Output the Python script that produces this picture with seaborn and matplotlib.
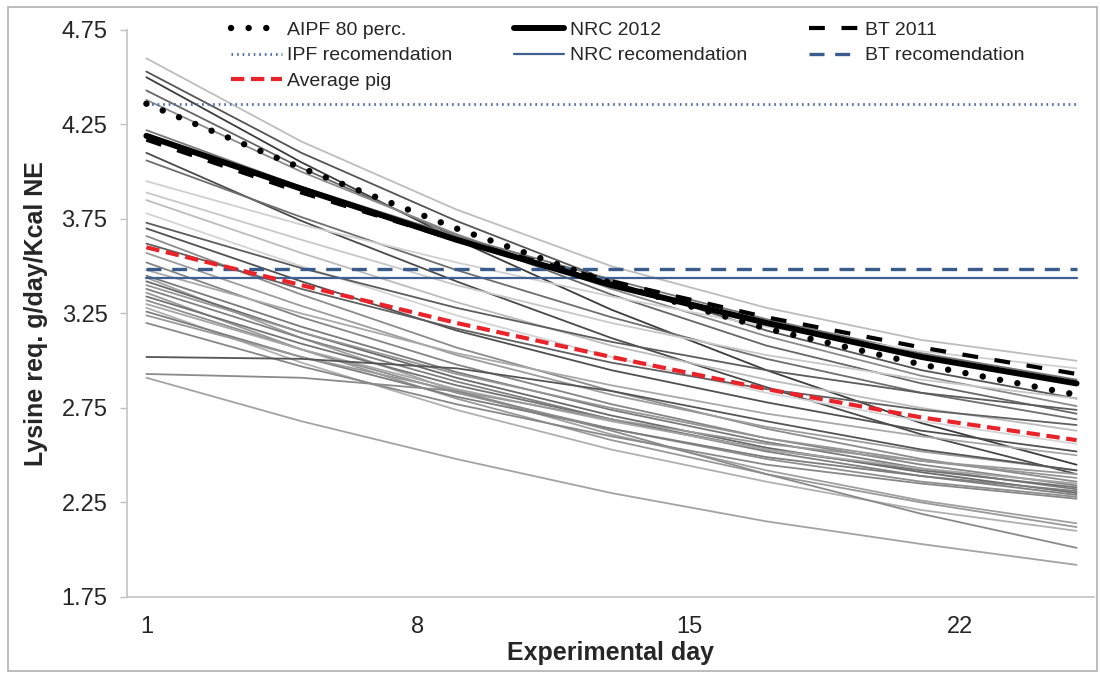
import pandas as pd
import seaborn as sns
import matplotlib.pyplot as plt
from matplotlib.patches import Rectangle

days = [1, 5, 9, 13, 17, 21, 25]

# individual pigs (one list per pig, values at the days above)
pig_curves = [
    [4.60, 4.16, 3.80, 3.50, 3.28, 3.11, 3.00],
    [4.53, 4.10, 3.74, 3.42, 3.16, 2.95, 2.80],
    [4.50, 4.05, 3.64, 3.27, 2.95, 2.67, 2.45],
    [4.43, 4.02, 3.66, 3.35, 3.08, 2.88, 2.72],
    [4.38, 4.00, 3.67, 3.38, 3.13, 2.92, 2.76],
    [4.22, 3.92, 3.66, 3.43, 3.22, 3.04, 2.90],
    [4.10, 3.74, 3.42, 3.12, 2.86, 2.61, 2.40],
    [4.06, 3.76, 3.48, 3.23, 3.01, 2.83, 2.69],
    [3.95, 3.72, 3.52, 3.34, 3.18, 3.05, 2.96],
    [3.89, 3.64, 3.40, 3.20, 3.03, 2.90, 2.80],
    [3.85, 3.57, 3.31, 3.08, 2.90, 2.75, 2.63],
    [3.78, 3.50, 3.24, 3.02, 2.83, 2.68, 2.56],
    [3.73, 3.49, 3.28, 3.10, 2.95, 2.83, 2.74],
    [3.70, 3.42, 3.16, 2.95, 2.78, 2.63, 2.52],
    [3.66, 3.35, 3.07, 2.84, 2.64, 2.48, 2.36],
    [3.62, 3.38, 3.17, 2.99, 2.85, 2.74, 2.66],
    [3.57, 3.29, 3.03, 2.82, 2.65, 2.52, 2.42],
    [3.52, 3.23, 2.98, 2.77, 2.59, 2.45, 2.34],
    [3.48, 3.25, 3.04, 2.87, 2.72, 2.60, 2.50],
    [3.45, 3.18, 2.94, 2.74, 2.57, 2.43, 2.32],
    [3.44, 3.12, 2.84, 2.61, 2.42, 2.26, 2.14],
    [3.42, 3.15, 2.91, 2.71, 2.54, 2.41, 2.30],
    [3.40, 3.15, 2.93, 2.75, 2.59, 2.47, 2.38],
    [3.38, 3.12, 2.89, 2.69, 2.52, 2.39, 2.29],
    [3.36, 3.06, 2.80, 2.58, 2.40, 2.25, 2.12],
    [3.34, 3.09, 2.87, 2.69, 2.53, 2.42, 2.33],
    [3.32, 3.06, 2.83, 2.64, 2.48, 2.36, 2.28],
    [3.30, 3.06, 2.85, 2.68, 2.53, 2.43, 2.35],
    [3.28, 2.99, 2.74, 2.53, 2.36, 2.21, 2.10],
    [3.26, 3.02, 2.81, 2.64, 2.49, 2.39, 2.31],
    [3.24, 3.02, 2.84, 2.69, 2.56, 2.47, 2.40],
    [3.20, 2.97, 2.77, 2.60, 2.45, 2.35, 2.27],
    [3.02, 3.01, 2.96, 2.84, 2.68, 2.53, 2.42],
    [2.93, 2.91, 2.84, 2.63, 2.40, 2.19, 2.01],
    [2.91, 2.68, 2.48, 2.30, 2.15, 2.03, 1.92],
]

aipf_80 = [4.36, 4.02, 3.70, 3.41, 3.17, 2.98, 2.82]
nrc_2012 = [4.19, 3.91, 3.64, 3.40, 3.20, 3.02, 2.88]
bt_2011 = [4.17, 3.89, 3.64, 3.42, 3.23, 3.07, 2.93]
average_pig = [3.60, 3.40, 3.20, 3.02, 2.85, 2.70, 2.58]
ipf_rec = 4.36
nrc_rec = 3.44
bt_rec = 3.485

x_ticks = [1, 8, 15, 22]
y_ticks = [1.75, 2.25, 2.75, 3.25, 3.75, 4.25, 4.75]

# grey shade of every pig line
pig_shades = ['#bdbdbd', '#555555', '#3c3c3c', '#666666', '#8a8a8a', '#777777',
              '#4a4a4a', '#6e6e6e', '#d0d0d0', '#c8c8c8', '#bcbcbc', '#d4d4d4',
              '#5c5c5c', '#505050', '#8c8c8c', '#606060', '#9c9c9c', '#858585',
              '#a8a8a8', '#7a7a7a', '#a0a0a0', '#6a6a6a', '#959595', '#808080',
              '#999999', '#737373', '#8f8f8f', '#a5a5a5', '#b0b0b0', '#7d7d7d',
              '#989898', '#888888', '#555555', '#8a8a8a', '#a3a3a3']

sns.set_theme(style='white')
plt.rcParams['font.family'] = ['Liberation Sans', 'DejaVu Sans']

pigs = pd.DataFrame(
    [(i, d, v) for i, curve in enumerate(pig_curves) for d, v in zip(days, curve)],
    columns=['pig', 'day', 'lys'])

fig = plt.figure(figsize=(11, 6.73), dpi=100)
ax = fig.add_axes([127 / 1100, 1 - 597 / 673, 967 / 1100, 567 / 673])

sns.lineplot(data=pigs, x='day', y='lys', hue='pig', palette=pig_shades,
             legend=False, linewidth=1.3, ax=ax)

span = [days[0], days[-1]]
sns.lineplot(x=span, y=[ipf_rec] * 2, color='#4f6fa0', linewidth=2.0,
             linestyle=(0, (0.6, 1.4)), ax=ax)
h_ipf = ax.lines[-1]
sns.lineplot(x=span, y=[nrc_rec] * 2, color='#3f6191', linewidth=1.6, ax=ax)
h_nrcr = ax.lines[-1]
sns.lineplot(x=span, y=[bt_rec] * 2, color='#3b5b8c', linewidth=2.4,
             linestyle=(0, (4.5, 3.2)), ax=ax)
h_btr = ax.lines[-1]

sns.lineplot(x=days, y=average_pig, color='#e8232a', linewidth=3.0,
             linestyle=(0, (3.2, 1.6)), ax=ax)
h_avg = ax.lines[-1]
sns.lineplot(x=days, y=nrc_2012, color='black', linewidth=4.3, ax=ax)
h_nrc = ax.lines[-1]
sns.lineplot(x=days, y=bt_2011, color='black', linewidth=3.0,
             linestyle=(0, (3.8, 4.0)), ax=ax)
h_bt = ax.lines[-1]
sns.lineplot(x=days, y=aipf_80, color='black', linewidth=4.6,
             linestyle=(0, (0.01, 2.75)), dash_capstyle='round', ax=ax)
h_aipf = ax.lines[-1]

ax.set_xlim(0.5, 25.45)
ax.set_ylim(1.75, 4.75)
ax.set_xticks(x_ticks)
ax.set_xticklabels([str(t) for t in x_ticks])
ax.set_yticks(y_ticks)
ax.set_yticklabels([f'{t:.2f}' for t in y_ticks])
ax.tick_params(axis='x', length=0, pad=14, labelsize=17, labelcolor='#262626')
ax.tick_params(axis='y', length=5, width=1, color='#bfbfbf', direction='out',
               pad=9, labelsize=17, labelcolor='#262626', left=True)

for side in ['top', 'right']:
    ax.spines[side].set_visible(False)
for side in ['left', 'bottom']:
    ax.spines[side].set_color('#c4c4c4')
    ax.spines[side].set_linewidth(1.2)

ax.set_xlabel('Experimental day', fontsize=18, fontweight='bold', labelpad=2)
ax.set_ylabel('Lysine req. g/day/Kcal NE', fontsize=18, fontweight='bold', labelpad=10)

handles = [h_aipf, h_ipf, h_avg, h_nrc, h_nrcr, h_bt, h_btr]
labels = ['AIPF 80 perc.', 'IPF recomendation', 'Average pig',
          'NRC 2012', 'NRC recomendation', 'BT 2011', 'BT recomendation']
ax.legend(handles, labels, ncol=3, loc='upper left', frameon=False,
          bbox_to_anchor=(231 / 1100, 1 - 21 / 673), bbox_transform=fig.transFigure,
          borderaxespad=0, borderpad=0, fontsize=14, handlelength=2.6,
          handletextpad=0.3, columnspacing=3.15, labelspacing=0.42)

fig.patches.append(Rectangle((8 / 1100, 2 / 673), 1089 / 1100, 664 / 673,
                             transform=fig.transFigure, fill=False,
                             edgecolor='#b0b0b0', linewidth=1.2))

fig.savefig('out.png', dpi=100)
